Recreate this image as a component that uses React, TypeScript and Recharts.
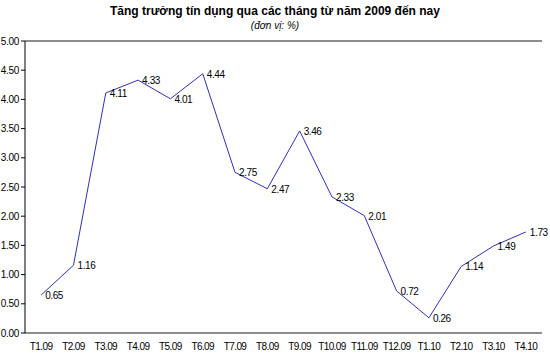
import React from "react";
import {
  LineChart,
  Line,
  XAxis,
  YAxis,
  CartesianGrid,
  LabelList,
} from "recharts";

const months = [
  "T1.09", "T2.09", "T3.09", "T4.09", "T5.09", "T6.09", "T7.09", "T8.09",
  "T9.09", "T10.09", "T11.09", "T12.09", "T1.10", "T2.10", "T3.10", "T4.10",
];
const growth = [
  0.65, 1.16, 4.11, 4.33, 4.01, 4.44, 2.75, 2.47,
  3.46, 2.33, 2.01, 0.72, 0.26, 1.14, 1.49, 1.73,
];
const yTicks = [0, 0.5, 1, 1.5, 2, 2.5, 3, 3.5, 4, 4.5, 5];
const boundaryTicks = Array.from({ length: months.length + 1 }, (_, i) => i);

const title = "Tăng trưởng tín dụng qua các tháng từ năm 2009 đến nay";
const subtitle = "(đơn vị: %)";

const data = months.map((m, i) => ({ month: m, value: growth[i] }));

const FONT = "Arial, 'Liberation Sans', sans-serif";

const PointLabel = (props: any) => {
  const { x, y, value } = props;
  return (
    <text
      x={x + 4}
      y={y + 4}
      fontSize={10}
      fontFamily={FONT}
      letterSpacing={-0.4}
      fill="#000"
      textAnchor="start"
    >
      {Number(value).toFixed(2)}
    </text>
  );
};

export default function App() {
  return (
    <div style={{ position: "absolute", left: 0, top: 0, width: 550, height: 364, background: "#fff" }}>
      <div
        style={{
          position: "absolute",
          left: 0,
          top: 4,
          width: 550,
          textAlign: "center",
          fontFamily: FONT,
          fontWeight: "bold",
          fontSize: 12,
          lineHeight: "14px",
          color: "#000",
        }}
      >
        {title}
      </div>
      <div
        style={{
          position: "absolute",
          left: 0,
          top: 20,
          width: 550,
          textAlign: "center",
          fontFamily: FONT,
          fontStyle: "italic",
          fontSize: 10,
          lineHeight: "12px",
          color: "#000",
        }}
      >
        {subtitle}
      </div>
      <LineChart
        width={550}
        height={364}
        data={data}
        margin={{ top: 41, right: 8, bottom: 9, left: 0 }}
        style={{ overflow: "visible" }}
      >
        <CartesianGrid vertical={false} stroke="#1a1a1a" strokeWidth={1} />
        <XAxis
          xAxisId="ticks"
          type="number"
          domain={[0, months.length]}
          ticks={boundaryTicks}
          allowDataOverflow
          tick={false}
          tickLine={{ stroke: "#000" }}
          tickSize={4}
          axisLine={{ stroke: "#000" }}
          height={0}
        />
        <XAxis
          xAxisId="cat"
          dataKey="month"
          type="category"
          scale="band"
          interval={0}
          tickLine={false}
          axisLine={false}
          tickSize={0}
          tickMargin={10}
          height={22}
          tick={{ fontSize: 10, fontFamily: FONT, fill: "#000", letterSpacing: -0.6 }}
        />
        <YAxis
          yAxisId="left"
          domain={[0, 5]}
          ticks={yTicks}
          width={25}
          tickFormatter={(v: number) => v.toFixed(2)}
          tick={{ fontSize: 10, fontFamily: FONT, fill: "#000", letterSpacing: -0.3 }}
          tickLine={{ stroke: "#000" }}
          tickSize={4}
          tickMargin={2}
          axisLine={{ stroke: "#000" }}
        />
        <YAxis
          yAxisId="right"
          orientation="right"
          domain={[0, 5]}
          width={0}
          tick={false}
          tickLine={false}
          axisLine={{ stroke: "#000" }}
        />
        <Line
          xAxisId="cat"
          yAxisId="left"
          type="linear"
          dataKey="value"
          stroke="#3030b0"
          strokeWidth={1}
          dot={false}
          isAnimationActive={false}
        >
          <LabelList dataKey="value" content={PointLabel} />
        </Line>
      </LineChart>
    </div>
  );
}
